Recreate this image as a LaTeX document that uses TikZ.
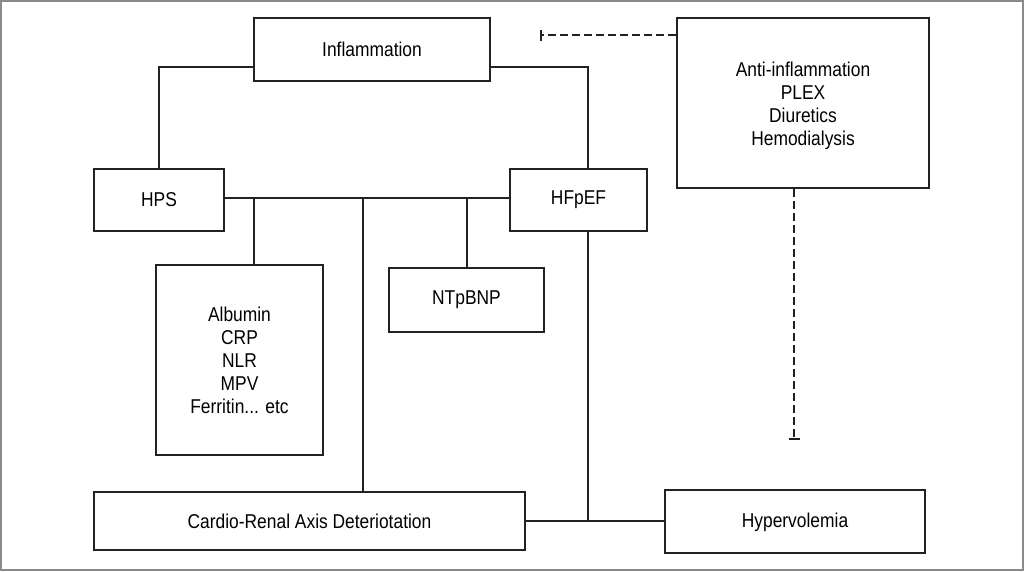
\documentclass[tikz,border=0pt]{standalone}
\usepackage{fontspec}
\setmainfont[FakeStretch=0.87]{Liberation Sans}
\usetikzlibrary{arrows.meta}
\definecolor{ink}{HTML}{222222}
\definecolor{frame}{HTML}{8A8A8A}
\begin{document}
\begin{tikzpicture}[x=1pt,y=-1pt,
  box/.style={draw=ink,line width=2.2pt,rectangle,inner sep=0pt,align=center,
    font=\fontsize{20}{23}\selectfont,text=black},
  conn/.style={draw=ink,line width=2.2pt},
  dconn/.style={draw=ink,line width=2.2pt,dash pattern=on 7.5pt off 4.5pt,-{Bar[width=11pt,line width=2.2pt]}}]
\useasboundingbox (0,0) rectangle (1024,571);
\fill[white] (0,0) rectangle (1024,571);
\draw[frame,line width=2pt] (1,1) rectangle (1023,570);
% nodes
\node[box,minimum width=236pt,minimum height=63pt] (infl) at (372,49.5) {Inflammation};
\node[box,minimum width=252pt,minimum height=170pt] (anti) at (803,103) {\rule{0pt}{21pt}Anti-inflammation\\PLEX\\Diuretics\\Hemodialysis};
\node[box,minimum width=130pt,minimum height=62pt] (hps) at (159,200) {HPS};
\node[box,minimum width=137pt,minimum height=62pt] (hfpef) at (578.5,200) {HFpEF};
\node[box,minimum width=155pt,minimum height=64pt] (ntp) at (466.5,300) {NTpBNP};
\node[box,minimum width=167pt,minimum height=190pt] (alb) at (239.5,360) {Albumin\\CRP\\NLR\\MPV\\Ferritin... etc};
\node[box,minimum width=431pt,minimum height=58pt] (cardio) at (309.5,521) {Cardio-Renal Axis Deteriotation};
\node[box,minimum width=260pt,minimum height=63pt] (hyper) at (795,521.5) {\rule{0pt}{17pt}Hypervolemia};
% junctions
\coordinate (j1) at (254,198);
\coordinate (j2) at (363,198);
\coordinate (j3) at (467,198);
\coordinate (j4) at (588,521);
\coordinate (t1) at (540,35);
\coordinate (t2) at (794,440);
% connectors
\draw[conn] ([yshift=-17.5pt]infl.west) -| (hps.north);
\draw[conn] ([yshift=-17.5pt]infl.east) -| ([xshift=9.5pt]hfpef.north);
\draw[conn] ([yshift=2pt]hps.east) -- ([yshift=2pt]hfpef.west);
\draw[conn] (j1) -- (j1 |- alb.north);
\draw[conn] (j2) -- (j2 |- cardio.north);
\draw[conn] (j3) -- (j3 |- ntp.north);
\draw[conn] ([xshift=9.5pt]hfpef.south) -- (j4);
\draw[conn] (cardio.east) -- (j4 -| hyper.west);
\draw[dconn] ([yshift=68pt]anti.west) -- (t1);
\draw[dconn] ([xshift=-9pt]anti.south) -- (t2);
\end{tikzpicture}
\end{document}
